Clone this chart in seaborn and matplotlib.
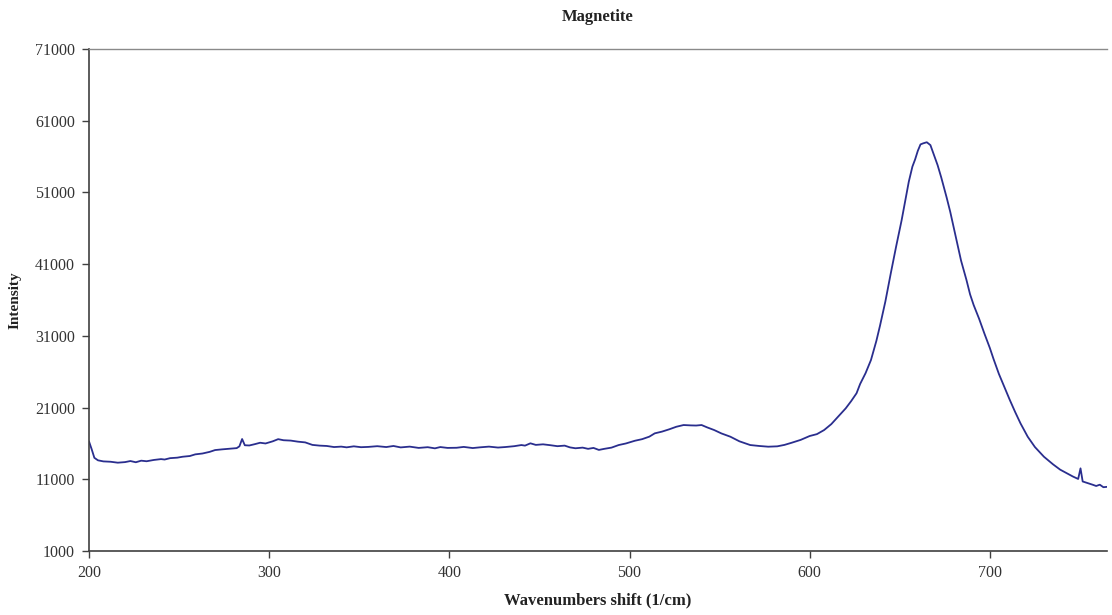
import matplotlib
matplotlib.use("Agg")
import matplotlib.pyplot as plt
import seaborn as sns
import pandas as pd

# Raman spectrum of magnetite: Raman shift (1/cm) and measured intensity
wavenumber = [
    200, 201.5, 203, 205, 208, 212, 216, 220, 223, 226,
    229, 232, 236, 240, 242, 245, 249, 252, 256, 259,
    263, 267, 270, 274, 278, 282, 283.5, 285, 286.5, 289,
    292, 295, 298, 302, 305, 308, 312, 316, 320, 324,
    328, 332, 336, 340, 343, 347, 351, 355, 360, 365,
    369, 373, 378, 383, 388, 392, 395, 399, 404, 408,
    413, 417, 422, 427, 431, 436, 440, 442, 445, 448,
    452, 456, 460, 464, 467, 470, 474, 477, 480, 483,
    486, 490, 494, 498, 503, 507, 511, 514, 518, 522,
    526, 530, 534, 537, 540, 543, 547, 551, 556, 561,
    567, 572, 577, 582, 586, 590, 595, 600, 604, 608,
    612, 616, 620, 623, 626, 628, 631, 634, 637, 639,
    642, 645, 648, 651, 653, 655, 657, 658.5, 660, 661.5,
    663, 665, 667, 669, 671, 673, 676, 678, 681, 684,
    687, 689, 691, 694, 697, 700, 702, 705, 708, 711,
    714, 717, 721, 725, 730, 735, 739, 743, 746, 749,
    750.3, 751.5, 754, 757, 759, 761, 763, 765,
]
intensity = [
    16300, 15200, 14000, 13650, 13500, 13450, 13320, 13400, 13550, 13380,
    13600, 13520, 13700, 13820, 13760, 13950, 14020, 14150, 14250, 14480,
    14600, 14830, 15080, 15180, 15260, 15350, 15600, 16620, 15750, 15720,
    15900, 16100, 16000, 16300, 16600, 16450, 16400, 16250, 16150, 15800,
    15700, 15650, 15500, 15560, 15460, 15600, 15480, 15520, 15620, 15500,
    15650, 15450, 15560, 15380, 15480, 15320, 15500, 15380, 15400, 15520,
    15360, 15460, 15560, 15430, 15500, 15620, 15780, 15700, 16020, 15800,
    15880, 15760, 15620, 15700, 15450, 15330, 15420, 15250, 15380, 15100,
    15250, 15420, 15780, 16000, 16380, 16600, 16950, 17410, 17650, 17970,
    18330, 18570, 18520, 18500, 18570, 18250, 17870, 17400, 16940, 16300,
    15780, 15650, 15550, 15600, 15800, 16100, 16500, 17040, 17300, 17870,
    18700, 19800, 20900, 21900, 23000, 24300, 25800, 27630, 30300, 32400,
    35800, 39720, 43500, 47100, 49800, 52500, 54600, 55600, 56800, 57700,
    57850, 58000, 57600, 56220, 54800, 53100, 50300, 48300, 44900, 41500,
    38800, 36800, 35300, 33400, 31300, 29300, 27800, 25700, 23900, 22100,
    20400, 18800, 16940, 15500, 14150, 13100, 12350, 11800, 11400, 11050,
    12530, 10700, 10500, 10250, 10070, 10250, 9900, 9950,
]

x_ticks = [200, 300, 400, 500, 600, 700]
y_ticks = [1000, 11000, 21000, 31000, 41000, 51000, 61000, 71000]

spectrum = pd.DataFrame({"wavenumber": wavenumber, "intensity": intensity})

sns.set_style("white")
plt.rcParams["font.family"] = ["Liberation Serif", "DejaVu Serif"]

fig = plt.figure(figsize=(11.12, 6.15), dpi=100)
ax = fig.add_axes([0.080, 0.104, 0.9155, 0.8163])

sns.lineplot(data=spectrum, x="wavenumber", y="intensity", ax=ax,
             color="#2a2e8e", linewidth=1.3, estimator=None, sort=False)

ax.set_xlim(200, 765)
ax.set_ylim(1000, 71000)
ax.set_xticks(x_ticks)
ax.set_yticks(y_ticks)
ax.set_xticklabels([str(t) for t in x_ticks])
ax.set_yticklabels([str(t) for t in y_ticks])

ax.tick_params(axis="both", direction="out", length=5, width=1.0,
               color="#404040", labelsize=11.5, labelcolor="#333333",
               pad=5, left=True, bottom=True)

for side in ("left", "bottom"):
    ax.spines[side].set_color("#404040")
    ax.spines[side].set_linewidth(1.2)
ax.spines["top"].set_color("#8a8a8a")
ax.spines["top"].set_linewidth(1.0)
ax.spines["right"].set_visible(False)

ax.set_xlabel("Wavenumbers shift (1/cm)", fontsize=12, fontweight="bold",
              color="#222222", labelpad=8)
ax.set_ylabel("Intensity", fontsize=11, fontweight="bold", color="#222222")
ax.yaxis.set_label_coords(-0.066, 0.5)
ax.set_title("Magnetite", fontsize=12, fontweight="bold", color="#222222",
             pad=20)

fig.savefig("out.png", dpi=100)
